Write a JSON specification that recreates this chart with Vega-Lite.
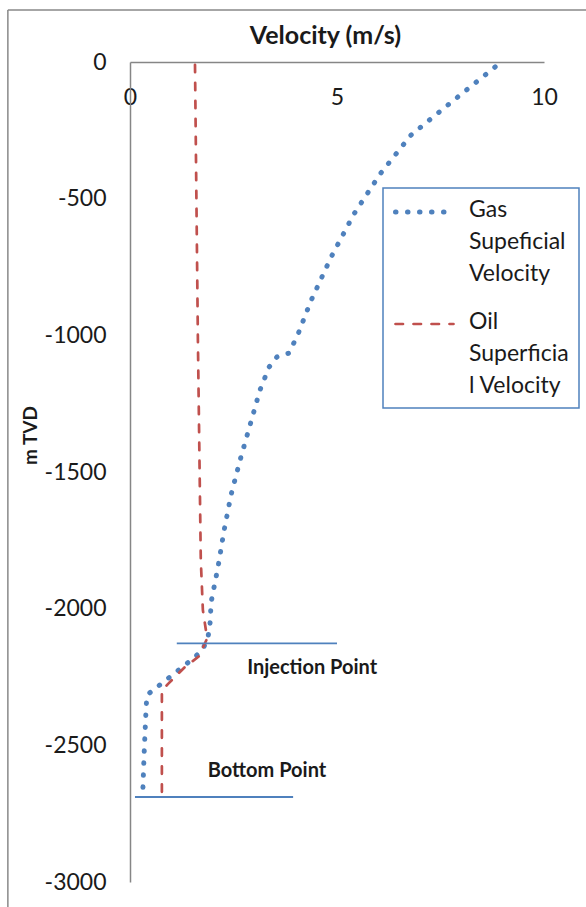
{
  "$schema": "https://vega.github.io/schema/vega-lite/v6.json",
  "autosize": {"type": "none"},
  "width": 414,
  "height": 820,
  "padding": {"left": 130, "top": 62, "right": 42, "bottom": 25},
  "background": "white",
  "config": {
    "view": {"stroke": null},
    "font": "Lato",
    "axis": {"grid": false}
  },
  "datasets": {
    "frame": [{"part": "border"}],
    "curves": [
      {"series": "Gas Supeficial Velocity", "velocity": 8.82, "depth": -18},
      {"series": "Gas Supeficial Velocity", "velocity": 7.68, "depth": -157},
      {"series": "Gas Supeficial Velocity", "velocity": 6.79, "depth": -267},
      {"series": "Gas Supeficial Velocity", "velocity": 6.04, "depth": -410},
      {"series": "Gas Supeficial Velocity", "velocity": 5.41, "depth": -556},
      {"series": "Gas Supeficial Velocity", "velocity": 4.86, "depth": -713},
      {"series": "Gas Supeficial Velocity", "velocity": 4.37, "depth": -874},
      {"series": "Gas Supeficial Velocity", "velocity": 4.06, "depth": -995},
      {"series": "Gas Supeficial Velocity", "velocity": 3.84, "depth": -1065},
      {"series": "Gas Supeficial Velocity", "velocity": 3.55, "depth": -1079},
      {"series": "Gas Supeficial Velocity", "velocity": 3.36, "depth": -1116},
      {"series": "Gas Supeficial Velocity", "velocity": 3.14, "depth": -1200},
      {"series": "Gas Supeficial Velocity", "velocity": 2.90, "depth": -1328},
      {"series": "Gas Supeficial Velocity", "velocity": 2.66, "depth": -1456},
      {"series": "Gas Supeficial Velocity", "velocity": 2.44, "depth": -1584},
      {"series": "Gas Supeficial Velocity", "velocity": 2.27, "depth": -1716},
      {"series": "Gas Supeficial Velocity", "velocity": 2.13, "depth": -1844},
      {"series": "Gas Supeficial Velocity", "velocity": 1.96, "depth": -1976},
      {"series": "Gas Supeficial Velocity", "velocity": 1.93, "depth": -2063},
      {"series": "Gas Supeficial Velocity", "velocity": 1.88, "depth": -2107},
      {"series": "Gas Supeficial Velocity", "velocity": 1.76, "depth": -2148},
      {"series": "Gas Supeficial Velocity", "velocity": 1.57, "depth": -2177},
      {"series": "Gas Supeficial Velocity", "velocity": 1.33, "depth": -2206},
      {"series": "Gas Supeficial Velocity", "velocity": 0.87, "depth": -2261},
      {"series": "Gas Supeficial Velocity", "velocity": 0.41, "depth": -2316},
      {"series": "Gas Supeficial Velocity", "velocity": 0.39, "depth": -2360},
      {"series": "Gas Supeficial Velocity", "velocity": 0.34, "depth": -2535},
      {"series": "Gas Supeficial Velocity", "velocity": 0.31, "depth": -2667},
      {"series": "Oil Superficial Velocity", "velocity": 1.57, "depth": -10},
      {"series": "Oil Superficial Velocity", "velocity": 1.64, "depth": -1017},
      {"series": "Oil Superficial Velocity", "velocity": 1.71, "depth": -1822},
      {"series": "Oil Superficial Velocity", "velocity": 1.76, "depth": -2005},
      {"series": "Oil Superficial Velocity", "velocity": 1.84, "depth": -2085},
      {"series": "Oil Superficial Velocity", "velocity": 1.86, "depth": -2110},
      {"series": "Oil Superficial Velocity", "velocity": 1.66, "depth": -2175},
      {"series": "Oil Superficial Velocity", "velocity": 1.33, "depth": -2213},
      {"series": "Oil Superficial Velocity", "velocity": 0.92, "depth": -2275},
      {"series": "Oil Superficial Velocity", "velocity": 0.77, "depth": -2300},
      {"series": "Oil Superficial Velocity", "velocity": 0.77, "depth": -2675}
    ],
    "markers": [
      {"name": "Injection Point", "from": 1.13, "to": 5.0, "depth": -2127, "labelVelocity": 4.4, "labelDepth": -2217},
      {"name": "Bottom Point", "from": 0.12, "to": 3.94, "depth": -2689, "labelVelocity": 3.31, "labelDepth": -2594}
    ]
  },
  "layer": [
    {
      "data": {"name": "frame"},
      "mark": {"type": "rule", "color": "#898989", "strokeWidth": 1.5},
      "encoding": {
        "x": {"datum": -2.95, "type": "quantitative", "scale": {"domain": [0, 10], "nice": false}},
        "y": {"datum": 190, "type": "quantitative", "scale": {"domain": [-3000, 0], "nice": false}},
        "y2": {"datum": -3300}
      }
    },
    {
      "data": {"name": "frame"},
      "mark": {"type": "rule", "color": "#898989", "strokeWidth": 1.5},
      "encoding": {
        "x": {"datum": -2.95, "type": "quantitative"},
        "x2": {"datum": 12},
        "y": {"datum": 190, "type": "quantitative"}
      }
    },
    {
      "data": {"name": "curves"},
      "mark": {"type": "line", "strokeCap": "round", "strokeJoin": "round"},
      "encoding": {
        "x": {
          "field": "velocity", "type": "quantitative",
          "scale": {"domain": [0, 10], "nice": false, "zero": false},
          "axis": {
            "orient": "top", "values": [0, 5, 10], "title": "Velocity (m/s)",
            "domainColor": "#868686", "domainWidth": 1.5, "ticks": false, "tickSize": 0,
            "labelPadding": -35, "labelBaseline": "middle", "labelFlush": false,
            "labelFont": "Lato", "labelFontSize": 23, "labelColor": "#1a1a1a",
            "titleFont": "Lato", "titleFontSize": 25, "titleFontWeight": "bold", "titleColor": "#1a1a1a",
            "titleX": 195, "titleY": -27, "titleBaseline": "middle", "titleAlign": "center", "titleAnchor": null
          }
        },
        "y": {
          "field": "depth", "type": "quantitative",
          "scale": {"domain": [-3000, 0], "nice": false, "zero": false},
          "axis": {
            "values": [0, -500, -1000, -1500, -2000, -2500, -3000], "title": "m TVD",
            "labelExpr": "'' + datum.value",
            "domainColor": "#868686", "domainWidth": 1.5, "ticks": false, "tickSize": 0,
            "labelPadding": 24, "labelFont": "Lato", "labelFontSize": 23, "labelColor": "#1a1a1a", "labelFlush": false,
            "titleFont": "Lato", "titleFontSize": 19, "titleFontWeight": "bold", "titleColor": "#1a1a1a",
            "titleX": -100, "titleY": 373, "titleAngle": -90, "titleBaseline": "middle", "titleAlign": "center"
          }
        },
        "order": {"field": "depth", "sort": "descending"},
        "color": {
          "field": "series", "type": "nominal",
          "scale": {"domain": ["Gas Supeficial Velocity", "Oil Superficial Velocity"], "range": ["#4F81BD", "#C0504D"]},
          "legend": {
            "title": null, "orient": "none", "legendX": 253, "legendY": 126,
            "strokeColor": "#4F81BD", "padding": 10, "symbolType": "stroke", "symbolSize": 3364,
            "labelFont": "Lato", "labelFontSize": 23, "labelColor": "#1a1a1a", "labelOffset": 13, "labelLimit": 200,
            "rowPadding": 24, "labelBaseline": "top",
            "labelExpr": "datum.value == 'Gas Supeficial Velocity' ? ['Gas', 'Supeficial', 'Velocity'] : ['Oil', 'Superficia', 'l Velocity']",
            "encode": {
              "labels": {"update": {"lineHeight": {"value": 32}, "dy": {"value": -13}, "y": {"value": 14}}},
              "symbols": {"update": {"strokeCap": {"value": "round"}, "y": {"value": 14}}},
              "legend": {"update": {"strokeWidth": {"value": 1.5}}}
            }
          }
        },
        "strokeDash": {
          "field": "series", "type": "nominal",
          "scale": {"domain": ["Gas Supeficial Velocity", "Oil Superficial Velocity"], "range": [[0.5, 11.5], [7.5, 10.5]]}
        },
        "strokeWidth": {
          "field": "series", "type": "nominal",
          "scale": {"domain": ["Gas Supeficial Velocity", "Oil Superficial Velocity"], "range": [5, 2.7]}
        }
      }
    },
    {
      "data": {"name": "markers"},
      "mark": {"type": "rule", "color": "#4F81BD", "strokeWidth": 1.8},
      "encoding": {
        "x": {"field": "from", "type": "quantitative"},
        "x2": {"field": "to"},
        "y": {"field": "depth", "type": "quantitative"}
      }
    },
    {
      "data": {"name": "markers"},
      "mark": {"type": "text", "font": "Lato", "fontSize": 20, "fontWeight": "bold", "color": "#1a1a1a", "align": "center", "baseline": "middle"},
      "encoding": {
        "x": {"field": "labelVelocity", "type": "quantitative"},
        "y": {"field": "labelDepth", "type": "quantitative"},
        "text": {"field": "name"}
      }
    }
  ]
}
